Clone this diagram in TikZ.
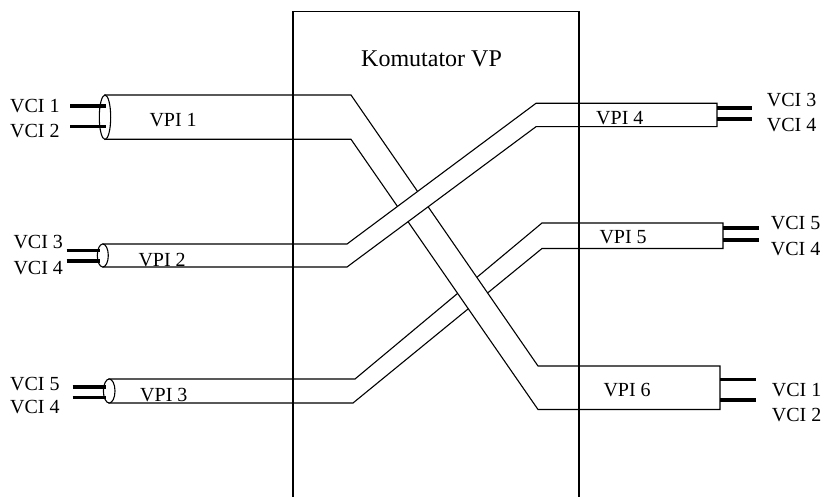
\documentclass[tikz,border=0pt]{standalone}
\usepackage{fontspec}
\setmainfont{Liberation Serif}
\begin{document}
\begin{tikzpicture}[x=1pt,y=-1pt,
  tube/.style={draw=black,fill=white,line width=1.1pt,line join=miter},
  tubeend/.style={draw=black,fill=white,line width=1.1pt},
  vci/.style={line width=3.6pt},
  frame/.style={draw=black,line width=1.6pt},
  lbl/.style={anchor=base west,inner sep=0pt,font=\fontsize{20}{24}\selectfont},
  title/.style={anchor=base west,inner sep=0pt,font=\fontsize{24}{28}\selectfont}]
\useasboundingbox (0,0) rectangle (825,497);

% tube VPI 3 -> VPI 5 (lowest layer)
\draw[tube] (109,379) -- (355,379) -- (542,223) -- (723,223) -- (723,248.5)
  -- (542,248.5) -- (353,403) -- (109,403) -- cycle;
% tube VPI 1 -> VPI 6 (over VPI 3)
\draw[tube] (105,95) -- (351,95) -- (538,366) -- (720,366) -- (720,409.5)
  -- (538,409.5) -- (351,139.3) -- (105,139.3) -- cycle;
% tube VPI 2 -> VPI 4 (top layer)
\draw[tube] (103,244) -- (347,244) -- (536,103.3) -- (717,103.3) -- (717,126.7)
  -- (536,126.7) -- (347,267) -- (103,267) -- cycle;

% tube mouths on the left
\draw[tubeend] (105,117.2) ellipse [x radius=5.7, y radius=22.2];
\draw[tubeend] (102.8,255.5) ellipse [x radius=5.5, y radius=11.5];
\draw[tubeend] (109.2,391) ellipse [x radius=5.8, y radius=12];

% right tube ends
\coordinate (r4a) at (717,108.3);  \coordinate (r4b) at (717,119.3);
\coordinate (r5a) at (723,228.3);  \coordinate (r5b) at (723,240);
\coordinate (r6a) at (720,379.3);  \coordinate (r6b) at (720,400);
% left tube ends
\coordinate (l1a) at (106,106.3);  \coordinate (l1b) at (106,126.7);
\coordinate (l2a) at (100,250.7);  \coordinate (l2b) at (100,261);
\coordinate (l3a) at (106,386.7);  \coordinate (l3b) at (106,397.3);

% virtual channels
\draw[vci] (70,106.3) -- (l1a);   \draw[vci] (70,126.7) -- (l1b);
\draw[vci] (66.7,250.7) -- (l2a); \draw[vci] (66.7,261) -- (l2b);
\draw[vci] (72.7,386.7) -- (l3a); \draw[vci] (72.7,397.3) -- (l3b);
\draw[vci] (r4a) -- (752,108.3);  \draw[vci] (r4b) -- (752,119.3);
\draw[vci] (r5a) -- (759,228.3);  \draw[vci] (r5b) -- (759,240);
\draw[vci] (r6a) -- (756,379.3);  \draw[vci] (r6b) -- (756,400);

% VCI labels
\node[lbl] (c1) at (10,112.3) {VCI 1};
\node[lbl] (c2) at (10,137.7) {VCI 2};
\node[lbl] (c3) at (13.3,249) {VCI 3};
\node[lbl] (c4) at (13.3,275) {VCI 4};
\node[lbl] (c5) at (10,390) {VCI 5};
\node[lbl] (c6) at (10,413.3) {VCI 4};
\node[lbl] (d1) at (766.7,106.7) {VCI 3};
\node[lbl] (d2) at (766.7,131.7) {VCI 4};
\node[lbl] (d3) at (770.7,229.3) {VCI 5};
\node[lbl] (d4) at (770.7,255) {VCI 4};
\node[lbl] (d5) at (771.7,396.7) {VCI 1};
\node[lbl] (d6) at (771.7,421.7) {VCI 2};

% VPI labels
\node[lbl] (p1) at (149.3,126.7) {VPI 1};
\node[lbl] (p2) at (138.3,266) {VPI 2};
\node[lbl] (p3) at (140,401.7) {VPI 3};
\node[lbl] (p4) at (596,125) {VPI 4};
\node[lbl] (p5) at (599.3,243.3) {VPI 5};
\node[lbl] (p6) at (603.3,396.7) {VPI 6};

% switch frame
\draw[frame] (292.7,497) -- (292.7,11.7) -- (579,11.7) -- (579,497);
\node[title] (sw) at (361,66.7) {Komutator VP};
\end{tikzpicture}
\end{document}
